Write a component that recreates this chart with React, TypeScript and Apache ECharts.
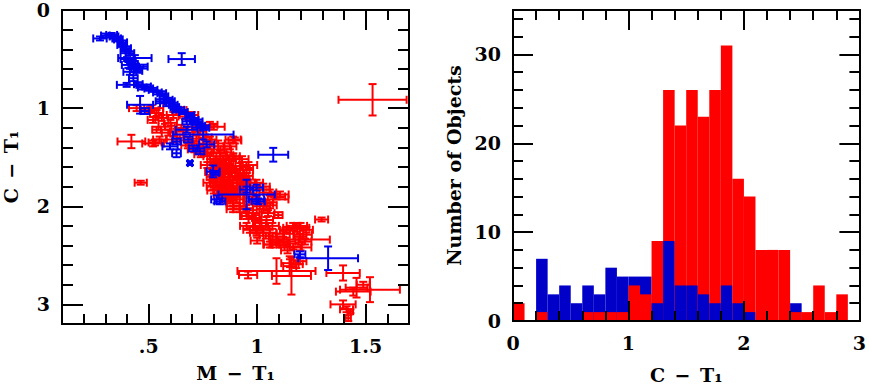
import React, { useEffect, useRef } from "react";
import * as echarts from "echarts";

// ---------- data ----------
// scatter: [M-T1, C-T1, err(M-T1), err(C-T1)]
const redPoints: number[][] = [
  [0.444, 1.0, 0.035, 0.03], [0.505, 1.02, 0.04, 0.03], [0.513, 1.0, 0.054, 0.03], [0.536, 1.05, 0.03, 0.03],
  [0.52, 1.12, 0.025, 0.03], [0.536, 1.22, 0.02, 0.03], [0.529, 1.35, 0.03, 0.03], [0.52, 1.36, 0.05, 0.03],
  [0.55, 1.32, 0.03, 0.03], [0.575, 1.19, 0.03, 0.03], [0.59, 1.25, 0.03, 0.03], [0.613, 1.32, 0.03, 0.03],
  [0.628, 1.24, 0.03, 0.03], [0.613, 1.07, 0.03, 0.03], [0.644, 1.02, 0.03, 0.03], [0.667, 1.085, 0.03, 0.03],
  [0.698, 1.07, 0.03, 0.03], [0.782, 1.17, 0.035, 0.03], [0.8, 1.19, 0.05, 0.03], [0.736, 1.24, 0.03, 0.03],
  [0.782, 1.32, 0.03, 0.03], [0.889, 1.32, 0.035, 0.03], [0.897, 1.33, 0.03, 0.03], [0.751, 1.39, 0.03, 0.03],
  [0.66, 1.3, 0.03, 0.03], [0.7, 1.36, 0.03, 0.03], [0.72, 1.31, 0.03, 0.03], [0.42, 1.34, 0.064, 0.068],
  [1.532, 0.915, 0.157, 0.16],
  [0.463, 1.76, 0.028, 0.02], [0.782, 1.49, 0.03, 0.03], [0.813, 1.54, 0.03, 0.03], [0.828, 1.46, 0.03, 0.03],
  [0.874, 1.39, 0.03, 0.03], [0.89, 1.49, 0.03, 0.03], [0.828, 1.59, 0.03, 0.03], [0.851, 1.56, 0.03, 0.03],
  [0.889, 1.51, 0.03, 0.03], [0.92, 1.59, 0.03, 0.03], [0.951, 1.63, 0.03, 0.03], [0.935, 1.63, 0.03, 0.03],
  [0.797, 1.7, 0.03, 0.03], [0.813, 1.66, 0.03, 0.03], [0.843, 1.7, 0.03, 0.03], [0.813, 1.75, 0.03, 0.03],
  [0.782, 1.76, 0.03, 0.03], [0.859, 1.76, 0.03, 0.03], [0.89, 1.73, 0.03, 0.03], [0.905, 1.73, 0.03, 0.03],
  [0.935, 1.73, 0.03, 0.03], [0.797, 1.8, 0.03, 0.03], [0.874, 1.8, 0.03, 0.03], [0.874, 1.83, 0.03, 0.03],
  [0.828, 1.83, 0.03, 0.03], [0.843, 1.86, 0.03, 0.03], [0.859, 1.9, 0.03, 0.03], [0.874, 1.92, 0.03, 0.03],
  [0.905, 1.93, 0.03, 0.03], [0.889, 1.97, 0.03, 0.03], [0.997, 1.76, 0.03, 0.03], [1.028, 1.8, 0.03, 0.03],
  [1.028, 1.83, 0.03, 0.03], [1.058, 1.86, 0.03, 0.03], [1.089, 1.9, 0.04, 0.03], [1.105, 1.88, 0.04, 0.03],
  [1.074, 1.93, 0.07, 0.03], [1.043, 1.97, 0.03, 0.03], [0.86, 1.63, 0.03, 0.03], [0.88, 1.66, 0.03, 0.03],
  [0.9, 1.69, 0.03, 0.03], [0.84, 1.78, 0.03, 0.03], [0.86, 1.84, 0.03, 0.03], [0.9, 1.85, 0.03, 0.03],
  [0.92, 1.8, 0.03, 0.03], [0.96, 1.76, 0.03, 0.03], [0.82, 1.6, 0.03, 0.03], [0.87, 1.7, 0.03, 0.03],
  [0.85, 1.67, 0.03, 0.03], [0.91, 1.88, 0.03, 0.03], [0.95, 1.69, 0.03, 0.03], [0.97, 1.83, 0.04, 0.03],
  [0.76, 1.45, 0.03, 0.03], [0.8, 1.42, 0.03, 0.03], [0.93, 1.52, 0.03, 0.03], [0.96, 1.58, 0.04, 0.03],
  [0.81, 1.72, 0.03, 0.03], [0.83, 1.76, 0.03, 0.03], [0.85, 1.81, 0.03, 0.03], [0.87, 1.86, 0.03, 0.03],
  [0.88, 1.76, 0.03, 0.03], [0.82, 1.69, 0.03, 0.03], [0.84, 1.64, 0.03, 0.03], [0.87, 1.6, 0.03, 0.03],
  [0.89, 1.62, 0.03, 0.03], [0.91, 1.66, 0.03, 0.03], [0.93, 1.7, 0.03, 0.03], [0.94, 1.78, 0.03, 0.03],
  [0.92, 1.84, 0.03, 0.03], [0.89, 1.9, 0.03, 0.03], [0.86, 1.94, 0.03, 0.03], [0.83, 1.88, 0.03, 0.03],
  [0.8, 1.84, 0.03, 0.03], [0.79, 1.65, 0.03, 0.03], [0.77, 1.58, 0.03, 0.03], [0.8, 1.55, 0.03, 0.03],
  [0.84, 1.52, 0.03, 0.03], [0.86, 1.48, 0.03, 0.03], [0.74, 1.47, 0.03, 0.03], [0.71, 1.42, 0.03, 0.03],
  [0.68, 1.38, 0.03, 0.03], [0.65, 1.2, 0.03, 0.03], [0.6, 1.15, 0.03, 0.03], [0.56, 1.1, 0.03, 0.03],
  [0.7, 1.22, 0.03, 0.03], [0.76, 1.3, 0.03, 0.03], [0.82, 1.36, 0.03, 0.03], [0.85, 1.42, 0.03, 0.03],
  [0.89, 2.0, 0.03, 0.03], [0.92, 2.0, 0.03, 0.03], [0.889, 2.03, 0.03, 0.03], [0.92, 2.03, 0.03, 0.03],
  [0.951, 2.1, 0.03, 0.03], [0.959, 2.1, 0.03, 0.03], [0.98, 2.07, 0.03, 0.03], [1.012, 2.0, 0.03, 0.03],
  [1.028, 2.03, 0.03, 0.03], [1.043, 2.14, 0.03, 0.03], [1.012, 2.17, 0.03, 0.03], [1.097, 2.09, 0.02, 0.03],
  [0.951, 2.2, 0.03, 0.03], [0.966, 2.24, 0.03, 0.03], [0.997, 2.27, 0.03, 0.03], [0.997, 2.25, 0.03, 0.03],
  [1.028, 2.24, 0.03, 0.03], [1.058, 2.27, 0.03, 0.03], [1.089, 2.34, 0.03, 0.03], [1.089, 2.31, 0.035, 0.03],
  [1.058, 2.39, 0.03, 0.03], [1.066, 2.39, 0.035, 0.03], [1.105, 2.39, 0.035, 0.03], [1.105, 2.37, 0.04, 0.03],
  [1.12, 2.37, 0.03, 0.03], [1.136, 2.36, 0.04, 0.04], [1.166, 2.41, 0.04, 0.03], [1.197, 2.34, 0.138, 0.03],
  [1.197, 2.31, 0.03, 0.03], [1.212, 2.29, 0.04, 0.04], [1.227, 2.24, 0.03, 0.03], [1.2, 2.2, 0.03, 0.03],
  [1.18, 2.22, 0.06, 0.04], [1.151, 2.25, 0.035, 0.03], [1.135, 2.24, 0.03, 0.03], [1.166, 2.2, 0.03, 0.03],
  [0.97, 1.95, 0.03, 0.03], [0.95, 2.02, 0.03, 0.03], [0.99, 2.12, 0.03, 0.03], [1.02, 2.2, 0.03, 0.03],
  [1.05, 2.07, 0.03, 0.03], [1.07, 2.2, 0.03, 0.03], [1.04, 2.3, 0.03, 0.03], [1.12, 2.28, 0.03, 0.03],
  [1.14, 2.45, 0.03, 0.03], [1.2, 2.42, 0.05, 0.03], [1.22, 2.36, 0.03, 0.03], [1.0, 2.35, 0.03, 0.03],
  [0.98, 1.9, 0.03, 0.03], [1.06, 1.99, 0.03, 0.03],
  [1.297, 2.135, 0.03, 0.02],
  [1.151, 2.58, 0.04, 0.04], [1.18, 2.59, 0.03, 0.04], [1.197, 2.56, 0.03, 0.03], [1.15, 2.61, 0.03, 0.1],
  [1.089, 2.66, 0.18, 0.13], [1.158, 2.71, 0.09, 0.19], [0.958, 2.7, 0.042, 0.035], [1.396, 2.68, 0.077, 0.077],
  [1.458, 2.83, 0.05, 0.1], [1.52, 2.85, 0.138, 0.127], [1.443, 2.87, 0.08, 0.04], [1.489, 2.8, 0.03, 0.03],
  [1.396, 3.0, 0.058, 0.04], [1.412, 3.05, 0.03, 0.03], [1.42, 3.14, 0.012, 0.03], [1.43, 3.07, 0.012, 0.02],
];

const bluePoints: number[][] = [
  [0.275, 0.29, 0.031, 0.02], [0.329, 0.254, 0.025, 0.02], [0.352, 0.29, 0.02, 0.02], [0.34, 0.27, 0.02, 0.02],
  [0.375, 0.356, 0.02, 0.02], [0.398, 0.39, 0.02, 0.02], [0.413, 0.44, 0.02, 0.02], [0.39, 0.42, 0.02, 0.02],
  [0.436, 0.49, 0.077, 0.03], [0.406, 0.56, 0.03, 0.03], [0.475, 0.577, 0.02, 0.02], [0.413, 0.63, 0.03, 0.03],
  [0.44, 0.6, 0.02, 0.03], [0.429, 0.695, 0.02, 0.03], [0.398, 0.763, 0.045, 0.02], [0.452, 0.756, 0.02, 0.02],
  [0.49, 0.78, 0.02, 0.02], [0.52, 0.814, 0.02, 0.02], [0.56, 0.848, 0.02, 0.02], [0.59, 0.915, 0.02, 0.02],
  [0.613, 0.966, 0.02, 0.02], [0.644, 1.017, 0.02, 0.02], [0.69, 1.07, 0.02, 0.02], [0.728, 1.136, 0.02, 0.02],
  [0.759, 1.2, 0.02, 0.02], [0.46, 0.966, 0.06, 0.09], [0.652, 0.5, 0.061, 0.06], [0.552, 0.93, 0.02, 0.02],
  [0.675, 1.136, 0.02, 0.03], [0.482, 1.03, 0.02, 0.03], [0.582, 0.95, 0.03, 0.03], [0.628, 1.017, 0.02, 0.02],
  [0.69, 1.1, 0.02, 0.03], [0.72, 1.17, 0.02, 0.03], [0.675, 1.22, 0.05, 0.03], [0.751, 1.27, 0.14, 0.05],
  [0.628, 1.34, 0.02, 0.03], [0.598, 1.39, 0.035, 0.03], [0.628, 1.46, 0.02, 0.04], [0.705, 1.41, 0.02, 0.03],
  [0.736, 1.44, 0.02, 0.03], [0.767, 1.37, 0.035, 0.03], [0.69, 1.56, 0.01, 0.02], [0.797, 1.645, 0.03, 0.06],
  [0.813, 1.93, 0.025, 0.04], [0.951, 1.83, 0.03, 0.03], [0.997, 1.93, 0.035, 0.04], [0.805, 1.66, 0.02, 0.02],
  [0.997, 1.81, 0.03, 0.03], [0.828, 1.95, 0.025, 0.03], [0.951, 1.88, 0.13, 0.15], [1.005, 1.95, 0.03, 0.03],
  [1.197, 2.49, 0.025, 0.03], [1.327, 2.53, 0.138, 0.12], [1.074, 1.475, 0.069, 0.07], [0.682, 1.32, 0.02, 0.03],
  [0.3, 0.26, 0.02, 0.02], [0.36, 0.3, 0.02, 0.02], [0.38, 0.33, 0.02, 0.02], [0.4, 0.5, 0.03, 0.02],
  [0.42, 0.52, 0.02, 0.02], [0.43, 0.57, 0.02, 0.02], [0.45, 0.62, 0.02, 0.02], [0.47, 0.79, 0.02, 0.02],
  [0.5, 0.8, 0.02, 0.02], [0.54, 0.84, 0.02, 0.02], [0.57, 0.88, 0.02, 0.02], [0.6, 0.93, 0.02, 0.02],
  [0.62, 0.99, 0.02, 0.02], [0.66, 1.04, 0.02, 0.02], [0.71, 1.12, 0.02, 0.02], [0.74, 1.18, 0.02, 0.02],
];

// histogram of C - T1 (bin starts, width 0.1)
const histBinStarts = [0.0, 0.1, 0.2, 0.3, 0.4, 0.5, 0.6, 0.7, 0.8, 0.9, 1.0, 1.1, 1.2, 1.3, 1.4,
  1.5, 1.6, 1.7, 1.8, 1.9, 2.0, 2.1, 2.2, 2.3, 2.4, 2.5, 2.6, 2.7, 2.8];
const redCounts = [2, 0, 1, 0, 0, 0, 1, 1, 1, 1, 4, 3, 9, 26, 22, 26, 23, 26, 31, 16, 14, 8, 8, 8, 1, 1, 4, 1, 3];
const blueCounts = [0, 0, 7, 3, 4, 2, 4, 3, 6, 5, 5, 5, 2, 9, 4, 4, 3, 2, 4, 2, 1, 0, 0, 0, 2, 0, 0, 0, 0];
const binWidth = 0.1;

// ticks and labels
const leftXMajor = [0.5, 1, 1.5];
const leftXLabels = [".5", "1", "1.5"];
const leftXMinor = [0.2, 0.3, 0.4, 0.6, 0.7, 0.8, 0.9, 1.1, 1.2, 1.3, 1.4, 1.6];
const leftYMajor = [0, 1, 2, 3];
const leftYLabels = ["0", "1", "2", "3"];
const leftYMinor = [0.2, 0.4, 0.6, 0.8, 1.2, 1.4, 1.6, 1.8, 2.2, 2.4, 2.6, 2.8];
const rightXMajor = [0, 1, 2, 3];
const rightXLabels = ["0", "1", "2", "3"];
const rightXMinor = [0.2, 0.4, 0.6, 0.8, 1.2, 1.4, 1.6, 1.8, 2.2, 2.4, 2.6, 2.8];
const rightYMajor = [0, 10, 20, 30];
const rightYLabels = ["0", "10", "20", "30"];
const rightYMinor = [2, 4, 6, 8, 12, 14, 16, 18, 22, 24, 26, 28, 32, 34];

const RED = "#ff0000";
const BLUE_PT = "#0000ee";
const BLUE_HIST = "#0000c8";
const FONT = "DejaVu Serif";

const textStyle = { fontFamily: FONT, fontWeight: "bold", fontSize: 19, color: "#000" };

function labelFor(values: number[], labels: string[]) {
  return (v: number) => {
    for (let i = 0; i < values.length; i++) if (Math.abs(values[i] - v) < 1e-6) return labels[i];
    return "";
  };
}

function makeAxis(opts: {
  grid: number; position: string; min: number; max: number; ticks: number[]; len: number;
  labels?: string[]; inverse?: boolean; name?: string; nameGap?: number;
}) {
  const a: any = {
    type: "value",
    gridIndex: opts.grid,
    position: opts.position,
    min: opts.min,
    max: opts.max,
    inverse: !!opts.inverse,
    z: 10,
    splitLine: { show: false },
    axisLine: { show: true, onZero: false, lineStyle: { color: "#000", width: 2 } },
    axisTick: { show: true, inside: true, length: opts.len, customValues: opts.ticks, lineStyle: { color: "#000", width: 2 } },
    axisLabel: { show: false },
  };
  if (opts.labels) {
    a.axisLabel = {
      show: true,
      customValues: opts.ticks,
      formatter: labelFor(opts.ticks, opts.labels),
      margin: 12,
      showMinLabel: true,
      showMaxLabel: true,
      ...textStyle,
    };
  }
  if (opts.name) {
    a.name = opts.name;
    a.nameLocation = "middle";
    a.nameGap = opts.nameGap;
    a.nameTextStyle = { ...textStyle };
  }
  return a;
}

function errorBarRender(color: string) {
  return (params: any, api: any) => {
    const x = api.value(0), y = api.value(1), xe = api.value(2), ye = api.value(3);
    const c = api.coord([x, y]);
    const l = api.coord([x - xe, y]);
    const r = api.coord([x + xe, y]);
    const t = api.coord([x, y - ye]);
    const b = api.coord([x, y + ye]);
    const cap = 4;
    const style = { stroke: color, lineWidth: 2 };
    const ln = (x1: number, y1: number, x2: number, y2: number) => ({ type: "line", shape: { x1, y1, x2, y2 }, style });
    return {
      type: "group",
      children: [
        ln(l[0], c[1], r[0], c[1]),
        ln(l[0], c[1] - cap, l[0], c[1] + cap),
        ln(r[0], c[1] - cap, r[0], c[1] + cap),
        ln(c[0], t[1], c[0], b[1]),
        ln(c[0] - cap, t[1], c[0] + cap, t[1]),
        ln(c[0] - cap, b[1], c[0] + cap, b[1]),
      ],
    };
  };
}

function histRender(params: any, api: any) {
  const x0 = api.value(0), r = api.value(1), b = api.value(2);
  const rect = (v: number, fill: string) => {
    const p0 = api.coord([x0, v]);
    const p1 = api.coord([x0 + binWidth, 0]);
    return { type: "rect", shape: { x: p0[0], y: p0[1], width: p1[0] - p0[0], height: p1[1] - p0[1] }, style: { fill } };
  };
  const children: any[] = [];
  const redRect = r > 0 ? rect(r, RED) : null;
  const blueRect = b > 0 ? rect(b, BLUE_HIST) : null;
  if (r >= b) { if (redRect) children.push(redRect); if (blueRect) children.push(blueRect); }
  else { if (blueRect) children.push(blueRect); if (redRect) children.push(redRect); }
  return { type: "group", children };
}

export default function App() {
  const ref = useRef<HTMLDivElement>(null);
  useEffect(() => {
    if (!ref.current) return;
    const chart = echarts.init(ref.current, undefined, { renderer: "svg" });
    const histData = histBinStarts.map((s, i) => [s, redCounts[i], blueCounts[i]]);
    const option: any = {
      animation: false,
      backgroundColor: "#fff",
      grid: [
        { left: 62, top: 10, width: 347, height: 314 },
        { left: 513, top: 10, width: 348, height: 314 },
      ],
      xAxis: [
        makeAxis({ grid: 0, position: "bottom", min: 0.1, max: 1.7, ticks: leftXMajor, len: 20, labels: leftXLabels, name: "M\u2002−\u2002T₁", nameGap: 39 }),
        makeAxis({ grid: 0, position: "bottom", min: 0.1, max: 1.7, ticks: leftXMinor, len: 10 }),
        makeAxis({ grid: 0, position: "top", min: 0.1, max: 1.7, ticks: leftXMajor, len: 20 }),
        makeAxis({ grid: 0, position: "top", min: 0.1, max: 1.7, ticks: leftXMinor, len: 10 }),
        makeAxis({ grid: 1, position: "bottom", min: 0, max: 3, ticks: rightXMajor, len: 20, labels: rightXLabels, name: "C\u2002−\u2002T₁", nameGap: 44 }),
        makeAxis({ grid: 1, position: "bottom", min: 0, max: 3, ticks: rightXMinor, len: 10 }),
        makeAxis({ grid: 1, position: "top", min: 0, max: 3, ticks: rightXMajor, len: 20 }),
        makeAxis({ grid: 1, position: "top", min: 0, max: 3, ticks: rightXMinor, len: 10 }),
      ],
      yAxis: [
        makeAxis({ grid: 0, position: "left", min: 0, max: 3.2, inverse: true, ticks: leftYMajor, len: 21, labels: leftYLabels, name: "C\u2002−\u2002T₁", nameGap: 42 }),
        makeAxis({ grid: 0, position: "left", min: 0, max: 3.2, inverse: true, ticks: leftYMinor, len: 11 }),
        makeAxis({ grid: 0, position: "right", min: 0, max: 3.2, inverse: true, ticks: leftYMajor, len: 21 }),
        makeAxis({ grid: 0, position: "right", min: 0, max: 3.2, inverse: true, ticks: leftYMinor, len: 11 }),
        makeAxis({ grid: 1, position: "left", min: 0, max: 35, ticks: rightYMajor, len: 20, labels: rightYLabels, name: "Number of Objects", nameGap: 50 }),
        makeAxis({ grid: 1, position: "left", min: 0, max: 35, ticks: rightYMinor, len: 10 }),
        makeAxis({ grid: 1, position: "right", min: 0, max: 35, ticks: rightYMajor, len: 20 }),
        makeAxis({ grid: 1, position: "right", min: 0, max: 35, ticks: rightYMinor, len: 10 }),
      ],
      series: [
        {
          type: "custom", name: "red", xAxisIndex: 0, yAxisIndex: 0, clip: true,
          renderItem: errorBarRender(RED), encode: { x: 0, y: 1 }, data: redPoints,
        },
        {
          type: "custom", name: "blue", xAxisIndex: 0, yAxisIndex: 0, clip: true,
          renderItem: errorBarRender(BLUE_PT), encode: { x: 0, y: 1 }, data: bluePoints,
        },
        {
          type: "custom", name: "hist", xAxisIndex: 4, yAxisIndex: 4, clip: true,
          renderItem: histRender, encode: { x: 0, y: 1 }, data: histData,
        },
      ],
    };
    chart.setOption(option);
    return () => chart.dispose();
  }, []);
  return <div ref={ref} style={{ position: "absolute", left: 0, top: 0, width: 869, height: 389 }} />;
}
